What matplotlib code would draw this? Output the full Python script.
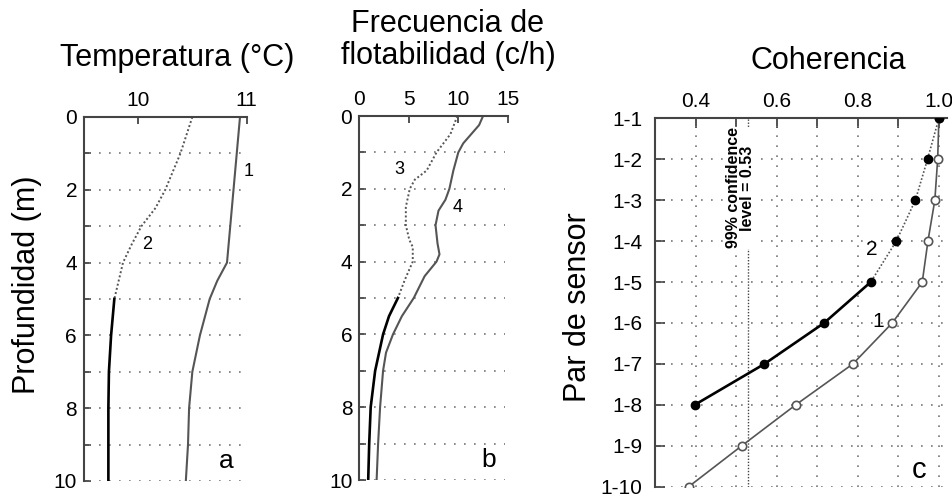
import matplotlib
matplotlib.use("Agg")
import matplotlib.pyplot as plt

plt.rcParams['font.family'] = ['Liberation Sans', 'DejaVu Sans']

# panel a: temperature profiles
depth_t1 = [0, 1, 2, 3, 4, 4.5, 5, 6, 7, 8, 9, 10]
temp1 = [10.94, 10.91, 10.88, 10.85, 10.82, 10.73, 10.66, 10.57, 10.50, 10.47, 10.46, 10.44]
depth_t2_dot = [0, 1, 2, 2.5, 3, 3.5, 4, 4.5, 5]
temp2_dot = [10.50, 10.39, 10.25, 10.16, 10.03, 9.94, 9.86, 9.82, 9.78]
depth_t2_solid = [5, 6, 7, 8, 9, 10]
temp2_solid = [9.78, 9.75, 9.73, 9.725, 9.725, 9.725]

# panel b: buoyancy frequency profiles
depth_n4 = [0, 0.25, 0.5, 0.75, 1, 1.5, 2, 2.3, 2.6, 3, 3.5, 3.8, 4, 4.4, 5, 5.5, 6, 6.5, 7, 8, 9, 10]
freq4 = [12.5, 12.1, 11.3, 10.5, 10.0, 9.5, 9.1, 8.7, 8.0, 7.7, 7.9, 8.1, 7.8, 6.6, 5.5, 4.3, 3.4, 2.7, 2.4, 2.1, 1.9, 1.75]
depth_n3_dot = [0, 0.5, 1, 1.5, 1.75, 2, 2.5, 3, 3.4, 3.6, 4, 4.5, 5]
freq3_dot = [9.9, 9.2, 7.8, 6.8, 5.6, 5.1, 4.7, 4.7, 5.05, 5.4, 5.4, 4.6, 3.9]
depth_n3_solid = [5, 5.5, 6, 6.5, 7, 8, 9, 10]
freq3_solid = [3.9, 3.0, 2.4, 2.0, 1.6, 1.15, 1.0, 0.9]

# panel c: coherence per sensor pair
pairs = ['1-1', '1-2', '1-3', '1-4', '1-5', '1-6', '1-7', '1-8', '1-9', '1-10']
coh1 = [1.0, 0.997, 0.99, 0.973, 0.959, 0.885, 0.788, 0.647, 0.514, 0.383]
coh2 = [1.0, 0.972, 0.942, 0.895, 0.832, 0.717, 0.570, 0.398]
conf_level = 0.53

W, H = 953, 501
fig = plt.figure(figsize=(W / 100, H / 100), dpi=100)

spine_col = '#444444'
line_gray = '#555555'
grid_kw = dict(color='#777777', linestyle=(0, (1, 5)), linewidth=1.2)
fine_dot = (0, (1, 1.2))


def prof_axes(rect, xlim, xticks):
    ax = fig.add_axes(rect)
    ax.set_xlim(*xlim)
    ax.set_ylim(10, 0)
    ax.xaxis.tick_top()
    ax.set_xticks(xticks)
    ax.set_yticks(range(0, 11))
    ax.set_yticklabels([str(d) if d % 2 == 0 else '' for d in range(0, 11)])
    ax.tick_params(direction='in', length=5, width=1.3, color=spine_col,
                   labelsize=15, pad=5)
    for s in ['right', 'bottom']:
        ax.spines[s].set_visible(False)
    for s in ['left', 'top']:
        ax.spines[s].set_color(spine_col)
        ax.spines[s].set_linewidth(1.5)
    for d in range(1, 11):
        ax.axhline(d, xmin=0.03, xmax=0.98, **grid_kw)
    return ax


# panel a
ax1 = prof_axes([84 / W, 1 - 481 / H, 162.5 / W, 364 / H], (9.5, 11.0), [10, 11])
ax1.plot(temp1, depth_t1, color=line_gray, lw=1.5)
ax1.plot(temp2_dot, depth_t2_dot, color=line_gray, lw=1.4, linestyle=fine_dot)
ax1.plot(temp2_solid, depth_t2_solid, color='black', lw=1.9)
ax1.text(11.02, 1.5, '1', fontsize=13, ha='center', va='center', clip_on=False)
ax1.text(10.08, 3.5, '2', fontsize=13, ha='center', va='center')
ax1.text(10.81, 9.45, 'a', fontsize=19, ha='center', va='center')

# panel b
ax2 = prof_axes([359.3 / W, 1 - 480 / H, 148.5 / W, 364 / H], (0, 15), [0, 5, 10, 15])
ax2.plot(freq4, depth_n4, color=line_gray, lw=1.5)
ax2.plot(freq3_dot, depth_n3_dot, color=line_gray, lw=1.4, linestyle=fine_dot)
ax2.plot(freq3_solid, depth_n3_solid, color='black', lw=1.9)
ax2.text(4.0, 1.47, '3', fontsize=13, ha='center', va='center')
ax2.text(9.9, 2.5, '4', fontsize=13, ha='center', va='center')
ax2.text(13.1, 9.45, 'b', fontsize=19, ha='center', va='center')

# panel c
ax3 = fig.add_axes([655 / W, 1 - 486.7 / H, 292 / W, 368.4 / H])
ax3.set_xlim(0.3, 1.02)
ax3.set_ylim(len(pairs) - 1, 0)
ax3.xaxis.tick_top()
ax3.set_xticks([0.4, 0.6, 0.8, 1.0])
ax3.set_xticklabels(['0.4', '0.6', '0.8', '1.0'])
ax3.set_xticks([0.5, 0.7, 0.9], minor=True)
ax3.set_yticks(range(len(pairs)))
ax3.set_yticklabels(pairs)
ax3.tick_params(which='both', direction='in', length=7, width=1.3, color=spine_col,
                labelsize=15)
ax3.tick_params(axis='y', pad=9)
ax3.tick_params(axis='x', pad=5)
for s in ['right', 'bottom']:
    ax3.spines[s].set_visible(False)
for s in ['left', 'top']:
    ax3.spines[s].set_color(spine_col)
    ax3.spines[s].set_linewidth(1.5)
for i in range(1, len(pairs)):
    ax3.axhline(i, xmin=0.02, xmax=1.0, **grid_kw)
for xv in [0.4, 0.5, 0.6, 0.7, 0.8, 0.9, 1.0]:
    ax3.axvline(xv, ymin=0.0, ymax=0.98, **grid_kw)
ax3.axvline(conf_level, color='#444444', lw=1.0, linestyle=fine_dot)
ax3.text(0.511, 1.7, '99% confidence\nlevel = 0.53', rotation=90, fontsize=11.5,
         fontweight='bold', ha='center', va='center', linespacing=0.9,
         bbox=dict(facecolor='white', edgecolor='none', pad=0.5))

ypos = list(range(len(pairs)))
ax3.plot(coh1, ypos, color=line_gray, lw=1.2, marker='o', markersize=6,
         markerfacecolor='white', markeredgecolor=line_gray, markeredgewidth=1.2, zorder=3)
ax3.plot(coh2[:5], ypos[:5], color=line_gray, lw=1.2, linestyle=fine_dot, zorder=3)
ax3.plot(coh2[4:], ypos[4:8], color='black', lw=1.9, zorder=3)
ax3.plot(coh2, ypos[:8], linestyle='none', marker='o', markersize=6,
         markerfacecolor='black', markeredgecolor='black', zorder=4)
ax3.text(0.834, 3.2, '2', fontsize=15, ha='center', va='center')
ax3.text(0.85, 4.97, '1', fontsize=15, ha='center', va='center')
ax3.text(0.95, 8.6, 'c', fontsize=21, ha='center', va='center')

# headings and axis labels
fig.text(177 / W, 1 - 58 / H, 'Temperatura (°C)', fontsize=22, ha='center', va='center')
fig.text(448 / W, 1 - 40 / H, 'Frecuencia de\nflotabilidad (c/h)', fontsize=22,
         ha='center', va='center', multialignment='center', linespacing=1.1)
fig.text(828 / W, 1 - 61 / H, 'Coherencia', fontsize=22, ha='center', va='center')
fig.text(27 / W, 1 - 285 / H, 'Profundidad (m)', fontsize=22, rotation=90,
         ha='center', va='center')
fig.text(578 / W, 1 - 307 / H, 'Par de sensor', fontsize=22, rotation=90,
         ha='center', va='center')

fig.savefig('out.png', dpi=100)
